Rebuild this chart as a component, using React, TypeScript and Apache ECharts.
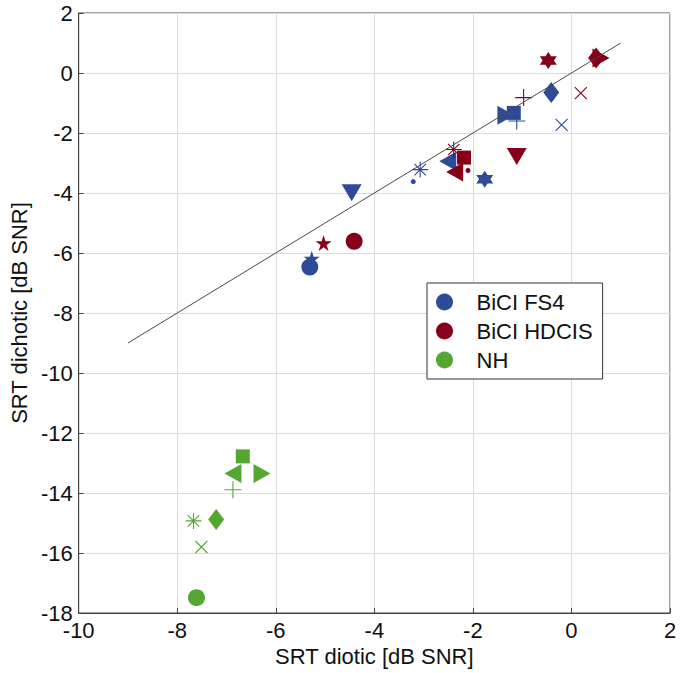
import React, { useEffect, useRef } from "react";
import * as echarts from "echarts";

// ---- data ----
const groupNames = ["BiCI FS4", "BiCI HDCIS", "NH"];
const groupColors = ["#2f4a97", "#860017", "#55a733"];

const fs4X = [-5.31, -5.27, -4.46, -3.21, -3.07, -2.51, -1.76, -1.33, -1.17, -1.11, -0.41, -0.2];
const fs4Y = [-6.47, -6.19, -3.99, -3.62, -3.22, -2.94, -3.54, -1.41, -1.33, -1.6, -0.65, -1.73];
const fs4Markers = ["circle", "pentagram", "triangleDown", "dot", "asterisk", "triangleLeft", "hexagram", "triangleRight", "square", "plus", "diamond", "cross"];

const hdcisX = [-4.41, -5.03, -1.11, -2.1, -2.39, -2.37, -0.47, 0.6, -2.18, -0.97, 0.5, 0.19];
const hdcisY = [-5.61, -5.67, -2.78, -3.25, -2.55, -3.3, 0.42, 0.5, -2.82, -0.82, 0.5, -0.67];
const hdcisMarkers = ["circle", "pentagram", "triangleDown", "dot", "asterisk", "triangleLeft", "hexagram", "triangleRight", "square", "plus", "diamond", "cross"];

const nhX = [-7.61, -7.51, -7.67, -7.21, -6.87, -6.87, -6.67, -6.28];
const nhY = [-17.49, -15.8, -14.93, -14.88, -13.89, -13.35, -12.78, -13.35];
const nhMarkers = ["circle", "cross", "asterisk", "diamond", "plus", "triangleLeft", "square", "triangleRight"];

const refLineX = [-9, 1];
const refLineY = [-9, 1];

const xMin = -10, xMax = 2, yMin = -18, yMax = 2, tickStep = 2;
const xTitle = "SRT diotic [dB SNR]";
const yTitle = "SRT dichotic [dB SNR]";

// ---- marker styling ----
const FONT = "'Liberation Sans', Arial, Helvetica, sans-serif";
const HEXAGRAM = "path://M10 0L12.89 5L18.66 5L15.77 10L18.66 15L12.89 15L10 20L7.11 15L1.34 15L4.23 10L1.34 5L7.11 5Z";
const PENTAGRAM = "path://M10 0L12.25 6.91L19.51 6.91L13.63 11.18L15.88 18.09L10 13.82L4.12 18.09L6.37 11.18L0.49 6.91L7.75 6.91Z";
const CROSS = "path://M0 0L10 10M10 0L0 10";
const PLUS = "path://M5 0L5 10M0 5L10 5";
const ASTER = "path://M5 0L5 10M0 5L10 5M1.46 1.46L8.54 8.54M8.54 1.46L1.46 8.54";

function markerStyle(kind: string, color: string) {
  const filled = { color, borderWidth: 0, opacity: 1 };
  const stroked = { color: "rgba(0,0,0,0)", borderColor: color, borderWidth: 1.1, opacity: 1 };
  switch (kind) {
    case "circle": return { symbol: "circle", symbolSize: 17, itemStyle: filled };
    case "dot": return { symbol: "circle", symbolSize: 5, itemStyle: filled };
    case "square": return { symbol: "rect", symbolSize: 14, itemStyle: filled };
    case "diamond": return { symbol: "diamond", symbolSize: [16, 21], itemStyle: filled };
    case "triangleDown": return { symbol: "triangle", symbolSize: [20, 17], symbolRotate: 180, itemStyle: filled };
    case "triangleLeft": return { symbol: "triangle", symbolSize: [19, 17], symbolRotate: 90, itemStyle: filled };
    case "triangleRight": return { symbol: "triangle", symbolSize: [19, 17], symbolRotate: -90, itemStyle: filled };
    case "hexagram": return { symbol: HEXAGRAM, symbolSize: 17, itemStyle: filled };
    case "pentagram": return { symbol: PENTAGRAM, symbolSize: 16, itemStyle: filled };
    case "cross": return { symbol: CROSS, symbolSize: 12, itemStyle: stroked };
    case "plus": return { symbol: PLUS, symbolSize: 17, itemStyle: stroked };
    case "asterisk": return { symbol: ASTER, symbolSize: 16, itemStyle: stroked };
    default: return { symbol: "circle", symbolSize: 10, itemStyle: filled };
  }
}

function buildData(xs: number[], ys: number[], marks: string[], color: string) {
  return xs.map((x, i) => ({ value: [x, ys[i]], ...markerStyle(marks[i], color) }));
}

export default function App() {
  const ref = useRef<HTMLDivElement>(null);
  useEffect(() => {
    if (!ref.current) return;
    const chart = echarts.init(ref.current, undefined, { renderer: "svg" });
    const groups = [
      [fs4X, fs4Y, fs4Markers],
      [hdcisX, hdcisY, hdcisMarkers],
      [nhX, nhY, nhMarkers],
    ] as [number[], number[], string[]][];

    const axisCommon = {
      type: "value" as const,
      nameLocation: "middle" as const,
      nameTextStyle: { fontSize: 22, fontFamily: FONT, color: "#111" },
      axisLine: { show: true, onZero: false, lineStyle: { color: "#444", width: 1 } },
      axisTick: { show: true, inside: true, length: 5, lineStyle: { color: "#444" } },
      axisLabel: { fontSize: 22, fontFamily: FONT, color: "#111", margin: 6 },
      splitLine: { show: true, lineStyle: { color: "#dcdcdc", width: 1 } },
    };

    chart.setOption({
      animation: false,
      textStyle: { fontFamily: FONT },
      grid: { left: 70, right: 10, top: 13, bottom: 60, show: true, borderColor: "#444", borderWidth: 1, containLabel: false },
      xAxis: { ...axisCommon, min: xMin, max: xMax, interval: tickStep, name: xTitle, nameGap: 31 },
      yAxis: { ...axisCommon, min: yMin, max: yMax, interval: tickStep, name: yTitle, nameGap: 44, nameRotate: 90 },
      legend: {
        data: groupNames.map((n) => ({ name: n, icon: "circle" })),
        orient: "vertical",
        left: 427,
        top: 283,
        itemWidth: 54,
        itemHeight: 17,
        itemGap: 7,
        padding: [8, 10, 8, 9],
        borderColor: "#333",
        borderWidth: 1,
        backgroundColor: "#fff",
        selectedMode: false,
        itemStyle: { opacity: 1 },
        textStyle: { fontSize: 22, fontFamily: FONT, color: "#111", lineHeight: 22 },
      },
      series: [
        ...groups.map(([xs, ys, ms], gi) => ({
          type: "scatter",
          name: groupNames[gi],
          itemStyle: { color: groupColors[gi], opacity: 1 },
          emphasis: { disabled: true },
          z: 2,
          data: buildData(xs, ys, ms, groupColors[gi]),
        })),
        {
          type: "line",
          name: "ref",
          data: refLineX.map((x, i) => [x, refLineY[i]]),
          symbol: "none",
          silent: true,
          z: 4,
          lineStyle: { color: "#4a4a4a", width: 1 },
        },
      ],
    });
    return () => chart.dispose();
  }, []);
  return <div ref={ref} style={{ position: "absolute", left: 0, top: 0, width: 680, height: 673 }} />;
}
